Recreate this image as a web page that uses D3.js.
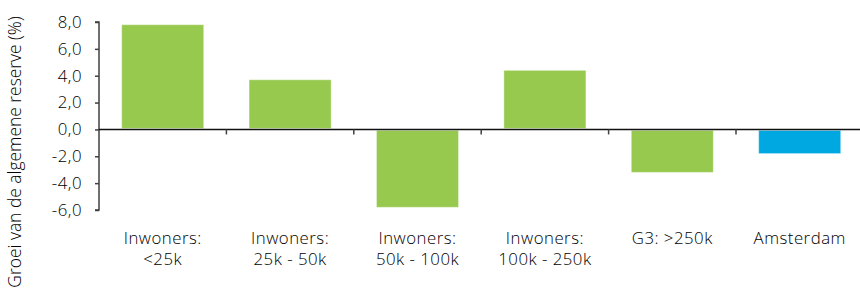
<!DOCTYPE html>
<html>
<head>
<meta charset="utf-8">
<script src="https://cdn.jsdelivr.net/npm/d3@7"></script>
<style>
  html, body { margin: 0; padding: 0; background: #fff; }
  svg { display: block; font-family: "Open Sans", sans-serif; font-weight: 350; }
</style>
</head>
<body>
<svg id="chart" width="860" height="291"></svg>
<script>
const categories = [
  ["Inwoners:", "<25k"],
  ["Inwoners:", "25k - 50k"],
  ["Inwoners:", "50k - 100k"],
  ["Inwoners:", "100k - 250k"],
  ["G3: >250k"],
  ["Amsterdam"]
];
const values = [7.8, 3.7, -5.8, 4.4, -3.2, -1.8];
const barColors = ["#97c94f", "#97c94f", "#97c94f", "#97c94f", "#97c94f", "#00a8e1"];
const yTicks = [-6, -4, -2, 0, 2, 4, 6, 8];
const yTitle = "Groei van de algemene reserve (%)";

(function () {
const svg = d3.select("#chart");
const mLeft = 99, mRight = 863.4, mTop = 22, mBottom = 210;
const fs = 16.8;
const ls = 0.5;

const x = d3.scaleBand().domain(d3.range(categories.length)).range([mLeft, mRight]).padding(0);
const y = d3.scaleLinear().domain([-6, 8]).range([mBottom, mTop]);
const barFrac = 0.644;

// bars
svg.append("g").selectAll("rect").data(values).join("rect")
  .attr("x", (d, i) => x(i) + x.bandwidth() * (1 - barFrac) / 2)
  .attr("width", x.bandwidth() * barFrac)
  .attr("y", d => d >= 0 ? y(d) : y(0) + 1)
  .attr("height", d => Math.abs(y(d) - y(0)) - 1)
  .attr("fill", (d, i) => barColors[i])
  .attr("stroke", "#fff")
  .attr("stroke-opacity", 0.4)
  .attr("stroke-width", 1);

// y axis
const fmt = d => d3.format(".1f")(d).replace(".", ",").replace("−", "-");
const yAxis = d3.axisLeft(y).tickValues(yTicks).tickSize(4).tickPadding(13).tickFormat(fmt);
const gy = svg.append("g").attr("transform", `translate(${mLeft},0)`).call(yAxis);
gy.attr("font-family", null).attr("font-size", null);
gy.select(".domain").attr("stroke", "#404040").attr("stroke-width", 1.5).attr("d", `M-4,${y(8)}H0V${y(-6)}H-4`);
gy.selectAll(".tick line").attr("stroke", "#404040").attr("stroke-width", 1.5);
gy.selectAll(".tick text").attr("font-size", fs).attr("fill", "#000").attr("letter-spacing", ls);

// zero line with category ticks
const gx = svg.append("g").attr("transform", `translate(0,${y(0)})`);
gx.append("line").attr("x1", mLeft).attr("x2", 860).attr("y1", 0).attr("y2", 0)
  .attr("stroke", "#111").attr("stroke-width", 1.5);
gx.selectAll("line.ct").data(d3.range(1, categories.length)).join("line")
  .attr("class", "ct")
  .attr("x1", i => x(i)).attr("x2", i => x(i))
  .attr("y1", 0).attr("y2", 5)
  .attr("stroke", "#404040").attr("stroke-width", 1.5);

// category labels
const lab = svg.append("g").selectAll("text").data(categories).join("text")
  .attr("text-anchor", "middle")
  .attr("font-size", fs)
  .attr("letter-spacing", ls)
  .attr("fill", "#000")
  .attr("transform", (d, i) => `translate(${x(i) + x.bandwidth() / 2},243.5)`);
lab.selectAll("tspan").data(d => d).join("tspan")
  .attr("x", 0)
  .attr("y", (d, j) => j * 21)
  .text(d => d);

// y title
svg.append("text")
  .attr("transform", `translate(21,${152}) rotate(-90)`)
  .attr("text-anchor", "middle")
  .attr("font-size", 17.4)
  .attr("fill", "#000")
  .text(yTitle);
})();
</script>
</body>
</html>
